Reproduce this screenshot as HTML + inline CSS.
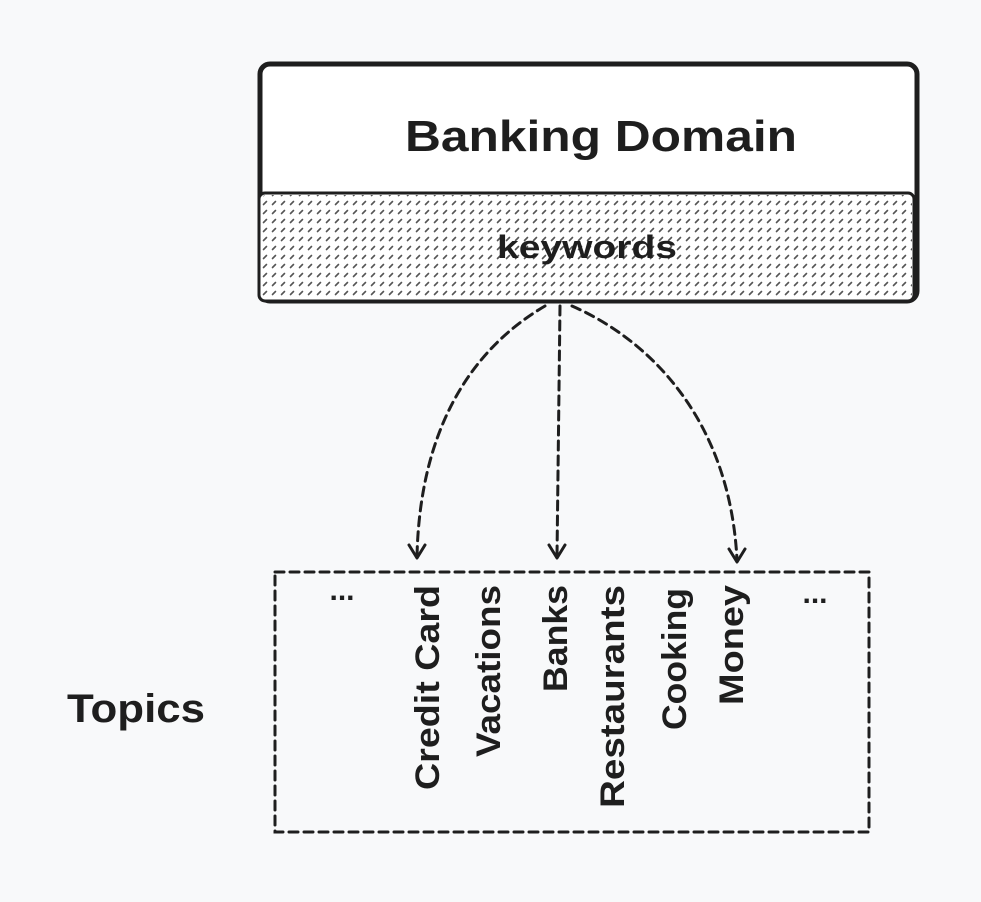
<!DOCTYPE html>
<html><head><style>html,body{margin:0;padding:0;background:#f8f9fa}</style></head><body>
<svg width="981" height="897" viewBox="0 0 981 897" xmlns="http://www.w3.org/2000/svg" font-family="'Liberation Sans', sans-serif" font-weight="bold" fill="#1e1e1e">
<defs>
<pattern id="h" width="9" height="9" patternUnits="userSpaceOnUse">
<line x1="2.5" y1="6.5" x2="5.5" y2="3.5" stroke="#555" stroke-width="1.6" stroke-linecap="round"/>
</pattern>
</defs>
<rect width="981" height="897" fill="#f8f9fa"/>
<rect x="260" y="64" width="657" height="237" rx="10" fill="#fff" stroke="#1e1e1e" stroke-width="5"/>
<rect x="259" y="193" width="655" height="108" rx="6" fill="#fff" stroke="#1e1e1e" stroke-width="3"/>
<rect x="261" y="195" width="651" height="104" rx="5" fill="url(#h)"/>
<text x="601" y="151" font-size="44" text-anchor="middle" textLength="392" lengthAdjust="spacingAndGlyphs">Banking Domain</text>
<text x="587" y="258" font-size="32" text-anchor="middle" textLength="180" lengthAdjust="spacingAndGlyphs">keywords</text>
<g fill="none" stroke="#1e1e1e" stroke-width="3" stroke-dasharray="9 6" stroke-linecap="round">
<path d="M545 306 C470 350 420 430 417 556"/>
<path d="M560 306 L557 556"/>
<path d="M572 306 C650 340 730 420 737 560"/>
<rect x="275" y="572" width="594" height="260"/>
</g>
<g fill="none" stroke="#1e1e1e" stroke-width="3" stroke-linecap="round" stroke-linejoin="round">
<path d="M409 545 L417 558 L425 545"/>
<path d="M549 545 L557 558 L565 545"/>
<path d="M729 549 L737 562 L745 549"/>
</g>
<g font-size="34" text-anchor="end">
<text transform="translate(439,585) rotate(-90)" textLength="205" lengthAdjust="spacingAndGlyphs">Credit Card</text>
<text transform="translate(500,585) rotate(-90)" textLength="172" lengthAdjust="spacingAndGlyphs">Vacations</text>
<text transform="translate(567,585) rotate(-90)" textLength="107" lengthAdjust="spacingAndGlyphs">Banks</text>
<text transform="translate(624,585) rotate(-90)" textLength="223" lengthAdjust="spacingAndGlyphs">Restaurants</text>
<text transform="translate(686,588) rotate(-90)" textLength="142" lengthAdjust="spacingAndGlyphs">Cooking</text>
<text transform="translate(743,585) rotate(-90)" textLength="120" lengthAdjust="spacingAndGlyphs">Money</text>
</g>
<text x="342" y="600" font-size="30" text-anchor="middle">...</text>
<text x="815" y="603" font-size="30" text-anchor="middle">...</text>
<text x="67" y="722" font-size="40" textLength="138" lengthAdjust="spacingAndGlyphs">Topics</text>
</svg>
</body></html>
